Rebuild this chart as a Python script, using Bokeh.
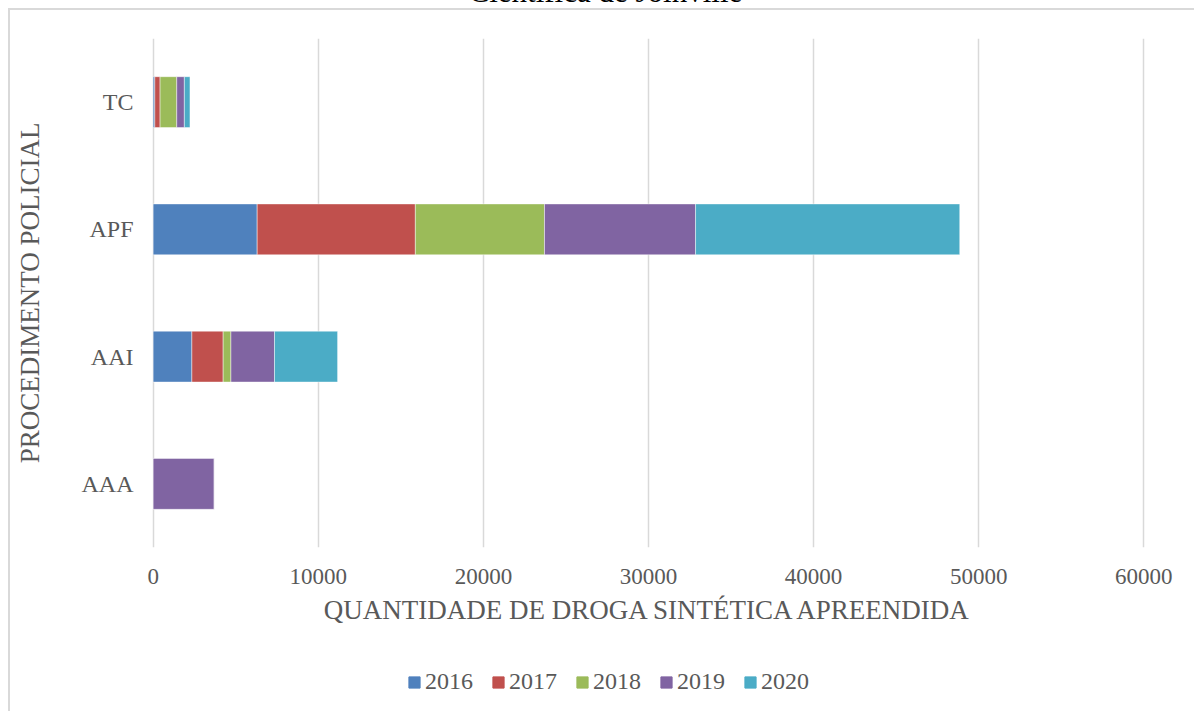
from bokeh.plotting import figure
from bokeh.layouts import column
from bokeh.models import (ColumnDataSource, FactorRange, Range1d, FixedTicker, Legend,
                          LegendItem, Title)
from bokeh.embed import file_html
from bokeh.resources import INLINE

# ---- data ----
procedures = ["AAA", "AAI", "APF", "TC"]
years = ["2016", "2017", "2018", "2019", "2020"]
v2016 = [0, 2345, 6300, 100]
v2017 = [0, 1895, 9580, 320]
v2018 = [0, 470, 7820, 1010]
v2019 = [3700, 2640, 9150, 460]
v2020 = [0, 3820, 16000, 340]
x_ticks = [0, 10000, 20000, 30000, 40000, 50000, 60000]
colors = ["#4F81BD", "#C0504D", "#9BBB59", "#8064A2", "#4BACC6"]
title_text = "Científica de Joinville"

source = ColumnDataSource(dict(proc=procedures, **{"2016": v2016, "2017": v2017,
                                                   "2018": v2018, "2019": v2019,
                                                   "2020": v2020}))

FONT = "Liberation Serif"
TXT = "#595959"
SHIFT = 64      # the top of the chart (with its title) lies above the window
LEG_H = 60      # height of the legend strip below the chart

p = figure(width=1194, height=711 - LEG_H + SHIFT, y_range=FactorRange(*procedures),
           x_range=Range1d(-100, 60100), output_backend="svg", toolbar_location=None,
           min_border_left=151, min_border_right=49, min_border_top=38 + SHIFT,
           min_border_bottom=(711 - LEG_H) - 547)
p.outline_line_color = None
p.background_fill_color = "white"
p.border_fill_color = None
p.styles = {"box-shadow": f"inset 8px {8 + SHIFT}px 0 0 #ffffff, "
                          f"inset 10px {10 + SHIFT}px 0 0 #d9d9d9"}

renderers = p.hbar_stack(years, y="proc", height=0.4, source=source, color=colors,
                         line_color="white", line_alpha=0.45, line_width=1)

title = Title(text=title_text, align="left", offset=317, standoff=60,
              text_font=FONT, text_font_size="31px", text_font_style="normal",
              text_color="#000000")
p.add_layout(title, "above")

# axes
p.xaxis.ticker = FixedTicker(ticks=x_ticks)
p.xaxis.axis_line_color = None
p.xaxis.major_tick_line_color = None
p.xaxis.minor_tick_line_color = None
p.xaxis.major_tick_out = 0
p.xaxis.major_label_standoff = 21
p.xaxis.major_label_text_font = FONT
p.xaxis.major_label_text_font_size = "23px"
p.xaxis.major_label_text_color = TXT
p.xaxis.axis_label = "QUANTIDADE DE DROGA SINTÉTICA APREENDIDA"
p.xaxis.axis_label_text_font = FONT
p.xaxis.axis_label_text_font_size = "27px"
p.xaxis.axis_label_text_font_style = "normal"
p.xaxis.axis_label_text_color = TXT
p.xaxis.axis_label_standoff = 8

p.yaxis.axis_line_color = None
p.yaxis.major_tick_line_color = None
p.yaxis.major_tick_out = 0
p.yaxis.major_label_standoff = 18
p.yaxis.major_label_text_font = FONT
p.yaxis.major_label_text_font_size = "24px"
p.yaxis.major_label_text_color = TXT
p.yaxis.axis_label = "PROCEDIMENTO POLICIAL"
p.yaxis.axis_label_text_font = FONT
p.yaxis.axis_label_text_font_size = "27px"
p.yaxis.axis_label_text_font_style = "normal"
p.yaxis.axis_label_text_color = TXT
p.yaxis.axis_label_standoff = 34

p.xgrid.grid_line_color = "#d9d9d9"
p.xgrid.grid_line_width = 1.5
p.ygrid.grid_line_color = None

# ---- legend strip (proxy bars lie outside its visible range) ----
q = figure(width=1194, height=LEG_H, x_range=Range1d(0, 1), y_range=Range1d(0, 1),
           output_backend="svg", toolbar_location=None,
           x_axis_location=None, y_axis_location=None,
           min_border_left=0, min_border_right=0, min_border_top=0, min_border_bottom=0)
q.outline_line_color = None
q.background_fill_color = None
q.border_fill_color = None
q.xgrid.visible = False
q.ygrid.visible = False
q.styles = {"box-shadow": "inset 8px 0 0 0 #ffffff, inset 10px 0 0 0 #d9d9d9"}

proxy = ColumnDataSource(dict(y=[-5], right=[1]))
leg_renderers = [q.hbar(y="y", right="right", height=0.1, source=proxy, color=c)
                 for c in colors]
legend = Legend(items=[LegendItem(label=y, renderers=[r]) for y, r in zip(years, leg_renderers)],
                orientation="horizontal", location=(256, 16),
                glyph_width=14, glyph_height=14, label_standoff=4, spacing=18,
                padding=0, margin=0, border_line_color=None, background_fill_alpha=0,
                label_text_font=FONT, label_text_font_size="24px", label_text_color=TXT)
q.add_layout(legend, "center")

layout = column(p, q, spacing=0, styles={"margin-top": f"-{SHIFT}px"})

open("out.html", "w").write(file_html(layout, INLINE))
